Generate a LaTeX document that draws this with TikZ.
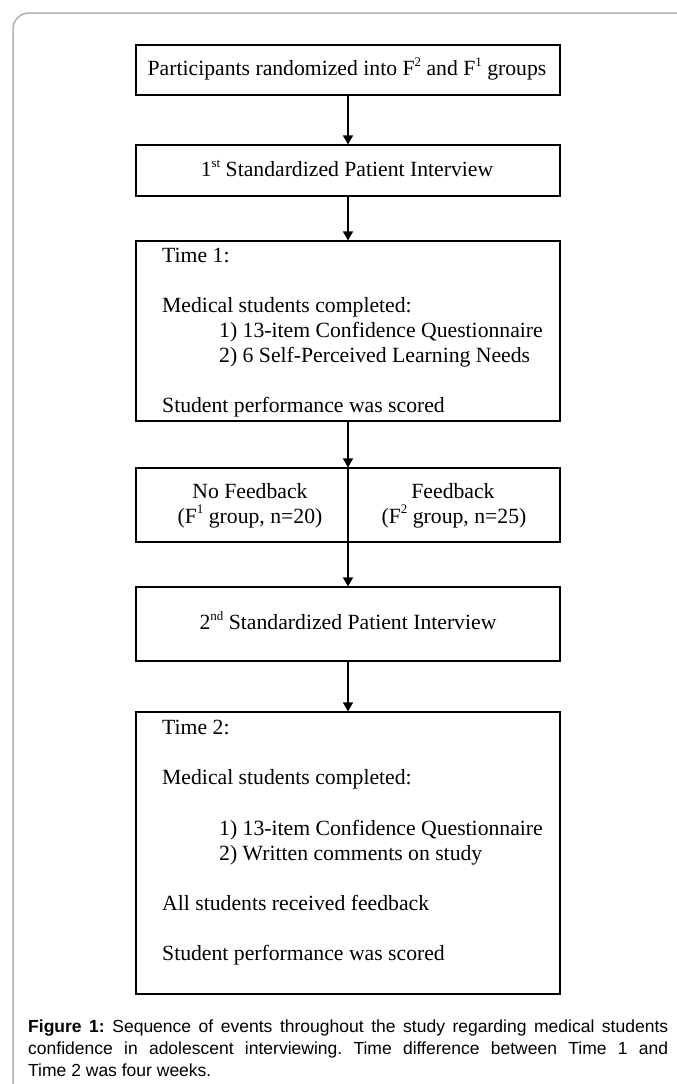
\documentclass[tikz,border=0pt]{standalone}
\usepackage{fontspec}
\setmainfont{Liberation Serif}
\newfontfamily\capfont{Liberation Sans}
\usetikzlibrary{arrows.meta}
\newcommand{\mysup}[1]{\raisebox{0.42em}{\fontsize{13}{13}\selectfont #1}}
\begin{document}
\begin{tikzpicture}[x=1pt,y=-1pt,
  box/.style={draw=black, line width=1.1pt, inner sep=0pt, minimum width=424pt},
  arr/.style={line width=1.1pt, -{Triangle[width=10pt,length=9pt]}},
  plain/.style={line width=1.1pt},
  txt/.style={inner sep=0pt, anchor=base west, font=\fontsize{21.7}{25}\selectfont},
  ctxt/.style={inner sep=0pt, anchor=base, font=\fontsize{21.7}{25}\selectfont}]
\useasboundingbox (0,0) rectangle (677,1084);
\fill[white] (0,0) rectangle (677,1084);
\draw[black!30, line width=1.5pt, rounded corners=16pt] (13,1120) -- (13,13) -- (720,13);

% boxes
\node[box, minimum height=50pt] (b1) at (348,70) {};
\node[box, minimum height=51pt] (b2) at (348,170.5) {};
\node[box, minimum height=180pt] (b3) at (348,331) {};
\node[box, minimum height=74pt] (b4) at (348,505) {};
\node[box, minimum height=74pt] (b5) at (348,624) {};
\node[box, minimum height=282pt] (b6) at (348,853) {};

% texts
\node[ctxt] (t1) at (347,75.5) {Participants randomized into F\mysup{2} and F\mysup{1} groups};
\node[ctxt] (t2) at (347,176.5) {1\mysup{st} Standardized Patient Interview};

\node[txt] (t3a) at (162,262) {Time 1:};
\node[txt] (t3b) at (162,312) {Medical students completed:};
\node[txt] (t3c) at (219,337) {1) 13-item Confidence Questionnaire};
\node[txt] (t3d) at (219,362) {2) 6 Self-Perceived Learning Needs};
\node[txt] (t3e) at (162,412) {Student performance was scored};

\node[ctxt] (t4a) at (250,498.5) {No Feedback};
\node[ctxt] (t4b) at (250,523) {(F\mysup{1} group, n=20)};
\node[ctxt] (t4c) at (453,498.5) {Feedback};
\node[ctxt] (t4d) at (454,523) {(F\mysup{2} group, n=25)};

\node[ctxt] (t5) at (348,629.5) {2\mysup{nd} Standardized Patient Interview};

\node[txt] (t6a) at (162,734) {Time 2:};
\node[txt] (t6b) at (162,784) {Medical students completed:};
\node[txt] (t6c) at (219,835) {1) 13-item Confidence Questionnaire};
\node[txt] (t6d) at (219,860) {2) Written comments on study};
\node[txt] (t6e) at (162,910) {All students received feedback};
\node[txt] (t6f) at (162,960) {Student performance was scored};

% connectors
\draw[arr] (b1.south) -- (b2.north);
\draw[arr] (b2.south) -- (b3.north);
\draw[arr] (b3.south) -- (b4.north);
\draw[plain] (b4.north) -- (b4.south);
\draw[arr] (b4.south) -- (b5.north);
\draw[arr] (b5.south) -- (b6.north);

% caption
\node[inner sep=0pt, anchor=base west] (cap) at (28,1032) {\parbox[t]{640pt}{\capfont\fontsize{17.5}{22}\selectfont\frenchspacing
\textbf{Figure 1:} Sequence of events throughout the study regarding medical students\linebreak
confidence in adolescent interviewing. Time difference between Time 1 and\linebreak
Time 2 was four weeks.}};
\end{tikzpicture}
\end{document}
